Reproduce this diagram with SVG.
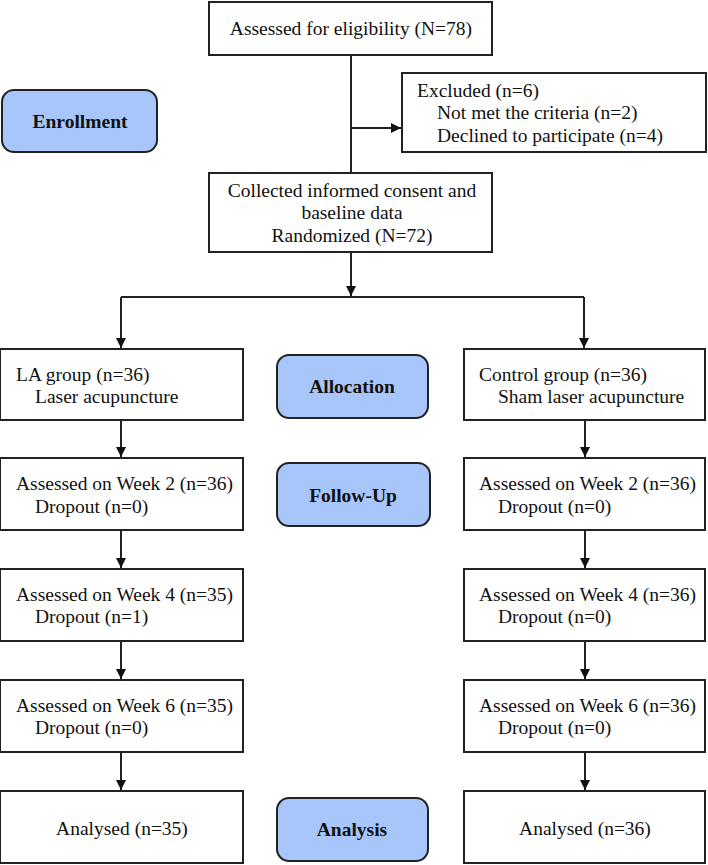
<svg xmlns="http://www.w3.org/2000/svg" width="708" height="865" viewBox="0 0 708 865">
<defs>
<style>
.box{fill:#fff;stroke:#222;stroke-width:2}
.stage{fill:#a8c6fa;stroke:#222;stroke-width:2}
text{font-family:"Liberation Serif","Times New Roman",serif;font-size:19.5px;fill:#111}
.b{font-weight:bold}
.c{text-anchor:middle}
.ln{fill:none;stroke:#222;stroke-width:2}
</style>
<marker id="ah" viewBox="0 0 10 10" refX="10" refY="5" markerWidth="5" markerHeight="5" orient="auto" markerUnits="userSpaceOnUse">
<path d="M0,0 L10,5 L0,10 z" fill="#111"/>
</marker>
<marker id="ar" viewBox="0 0 10 10" refX="10" refY="5" markerWidth="10" markerHeight="10" orient="auto" markerUnits="userSpaceOnUse">
<path d="M0,0 L10,5 L0,10 z" fill="#111"/>
</marker>
</defs>
<rect width="708" height="865" fill="#fff"/>
<g id="connectors">
<path class="ln" d="M351,55 V172"/>
<path class="ln" d="M351,128 H401" marker-end="url(#ar)"/>
<path class="ln" d="M351,252 V296" marker-end="url(#ar)"/>
<path class="ln" d="M121,297 H584"/>
<path class="ln" d="M121,297 V348" marker-end="url(#ar)"/>
<path class="ln" d="M584,297 V348" marker-end="url(#ar)"/>
<path class="ln" d="M121,420 V457" marker-end="url(#ar)"/>
<path class="ln" d="M585,420 V457" marker-end="url(#ar)"/>
<path class="ln" d="M121,530 V568" marker-end="url(#ar)"/>
<path class="ln" d="M585,530 V568" marker-end="url(#ar)"/>
<path class="ln" d="M121,641 V679" marker-end="url(#ar)"/>
<path class="ln" d="M585,641 V679" marker-end="url(#ar)"/>
<path class="ln" d="M121,752 V790" marker-end="url(#ar)"/>
<path class="ln" d="M585,752 V790" marker-end="url(#ar)"/>
</g>
<g id="eligibility">
<rect class="box" x="209" y="2" width="283" height="53"/>
<text class="c" x="351" y="35">Assessed for eligibility (N=78)</text>
</g>
<g id="excluded">
<rect class="box" x="402" y="73" width="304" height="79"/>
<text x="417" y="97">Excluded (n=6)</text>
<text x="437" y="119">Not met the criteria (n=2)</text>
<text x="437" y="142">Declined to participate (n=4)</text>
</g>
<g id="enrollment">
<rect class="stage" x="2" y="90" width="155" height="62" rx="12"/>
<text class="c b" x="80" y="128">Enrollment</text>
</g>
<g id="randomized">
<rect class="box" x="209" y="173" width="283" height="79"/>
<text class="c" x="352" y="197">Collected informed consent and</text>
<text class="c" x="352" y="219">baseline data</text>
<text class="c" x="352" y="242">Randomized (N=72)</text>
</g>
<g id="la-group">
<rect class="box" x="0" y="349" width="243" height="71"/>
<text x="16" y="381">LA group (n=36)</text>
<text x="35" y="403">Laser acupuncture</text>
</g>
<g id="allocation">
<rect class="stage" x="277" y="355" width="151" height="63" rx="12"/>
<text class="c b" x="352" y="393">Allocation</text>
</g>
<g id="control-group">
<rect class="box" x="464" y="349" width="241" height="71"/>
<text x="479" y="381">Control group (n=36)</text>
<text x="498" y="403">Sham laser acupuncture</text>
</g>
<g id="la-week2">
<rect class="box" x="0" y="458" width="243" height="72"/>
<text x="16" y="490">Assessed on Week 2 (n=36)</text>
<text x="35" y="513">Dropout (n=0)</text>
</g>
<g id="followup">
<rect class="stage" x="277" y="463" width="153" height="63" rx="12"/>
<text class="c b" x="353" y="502">Follow-Up</text>
</g>
<g id="ctl-week2">
<rect class="box" x="464" y="458" width="241" height="72"/>
<text x="479" y="490">Assessed on Week 2 (n=36)</text>
<text x="498" y="513">Dropout (n=0)</text>
</g>
<g id="la-week4">
<rect class="box" x="0" y="569" width="243" height="72"/>
<text x="16" y="601">Assessed on Week 4 (n=35)</text>
<text x="35" y="623">Dropout (n=1)</text>
</g>
<g id="ctl-week4">
<rect class="box" x="464" y="569" width="241" height="72"/>
<text x="479" y="601">Assessed on Week 4 (n=36)</text>
<text x="498" y="623">Dropout (n=0)</text>
</g>
<g id="la-week6">
<rect class="box" x="0" y="680" width="243" height="72"/>
<text x="16" y="712">Assessed on Week 6 (n=35)</text>
<text x="35" y="734">Dropout (n=0)</text>
</g>
<g id="ctl-week6">
<rect class="box" x="464" y="680" width="241" height="72"/>
<text x="479" y="712">Assessed on Week 6 (n=36)</text>
<text x="498" y="734">Dropout (n=0)</text>
</g>
<g id="la-analysed">
<rect class="box" x="0" y="791" width="243" height="72"/>
<text class="c" x="122" y="835">Analysed (n=35)</text>
</g>
<g id="analysis">
<rect class="stage" x="277" y="798" width="151" height="63" rx="12"/>
<text class="c b" x="352" y="836">Analysis</text>
</g>
<g id="ctl-analysed">
<rect class="box" x="464" y="791" width="241" height="72"/>
<text class="c" x="585" y="835">Analysed (n=36)</text>
</g>
</svg>
